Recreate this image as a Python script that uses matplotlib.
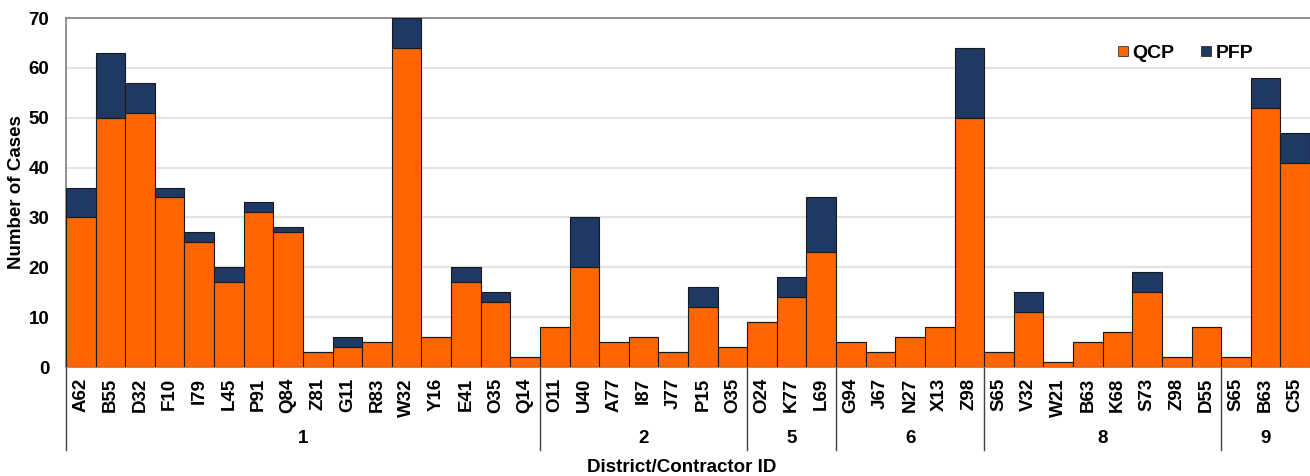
import matplotlib.pyplot as plt
from matplotlib.lines import Line2D
import numpy as np

plt.rcParams['font.family'] = ['Liberation Sans', 'DejaVu Sans']
plt.rcParams['font.weight'] = 'bold'

# contractor ids grouped by district
districts = ["1", "2", "5", "6", "8", "9"]
contractors = [
    ["A62", "B55", "D32", "F10", "I79", "L45", "P91", "Q84", "Z81", "G11",
     "R83", "W32", "Y16", "E41", "O35", "Q14"],
    ["O11", "U40", "A77", "I87", "J77", "P15", "O35"],
    ["O24", "K77", "L69"],
    ["G94", "J67", "N27", "X13", "Z98"],
    ["S65", "V32", "W21", "B63", "K68", "S73", "Z98", "D55"],
    ["S65", "B63", "C55"],
]
qcp = [30, 50, 51, 34, 25, 17, 31, 27, 3, 4, 5, 64, 6, 17, 13, 2,
       8, 20, 5, 6, 3, 12, 4,
       9, 14, 23,
       5, 3, 6, 8, 50,
       3, 11, 1, 5, 7, 15, 2, 8,
       2, 52, 41]
pfp = [6, 13, 6, 2, 2, 3, 2, 1, 0, 2, 0, 6, 0, 3, 2, 0,
       0, 10, 0, 0, 0, 4, 0,
       0, 4, 11,
       0, 0, 0, 0, 14,
       0, 4, 0, 0, 0, 4, 0, 0,
       0, 6, 6]

orange = "#FF6600"
navy = "#1F3864"

labels = [c for grp in contractors for c in grp]
x = np.arange(len(labels))

fig = plt.figure(figsize=(13.1, 4.76), dpi=100)
ax = fig.add_axes([66 / 1310, 1 - 367 / 476, 1 - 66 / 1310, 349 / 476])

ax.bar(x, qcp, width=1.0, color=orange, edgecolor="#1a1a1a", linewidth=0.8, zorder=3)
ax.bar(x, pfp, width=1.0, bottom=qcp, color=navy, edgecolor="#1a1a1a", linewidth=0.8, zorder=3)

ax.set_xlim(-0.5, len(labels) - 0.5)
ax.set_ylim(0, 70)
ax.set_yticks(range(0, 71, 10))
ax.yaxis.grid(True, color="#E3E3E3", linewidth=1.5, zorder=0)
ax.set_axisbelow(True)

ax.set_xticks(x)
ax.set_xticklabels(labels, rotation=90, fontsize=13.5, fontweight="bold")
ax.tick_params(axis="both", length=0, pad=8)
ax.tick_params(axis="y", labelsize=13.5, pad=12)
for t in ax.get_yticklabels():
    t.set_fontweight("bold")

for s in ["top", "left", "bottom"]:
    ax.spines[s].set_color("#808080")
    ax.spines[s].set_linewidth(1.2)
ax.spines["right"].set_visible(False)

# district grouping lines and labels below the axis
trans = ax.get_xaxis_transform()
start = 0
edges = [-0.5]
for d, grp in zip(districts, contractors):
    end = start + len(grp)
    edges.append(end - 0.5)
    ax.text((start + end - 1) / 2, -0.206, d, transform=trans, ha="center", va="center",
            fontsize=13.5, fontweight="bold")
    start = end
for e in edges[:-1]:
    ax.plot([e, e], [0, -0.238], transform=trans, color="#404040", lw=1.0, clip_on=False)

ax.set_ylabel("Number of Cases", fontsize=13.5, fontweight="bold")
ax.yaxis.set_label_coords(-0.033, 0.5)
ax.text(20.3, -0.289, "District/Contractor ID", transform=trans,
        ha="center", va="center", fontsize=13.5, fontweight="bold")

handles = [Line2D([], [], marker="s", ls="", color=orange, markersize=6.5, markeredgecolor="#1a1a1a", markeredgewidth=0.5),
           Line2D([], [], marker="s", ls="", color=navy, markersize=6.5, markeredgecolor="#1a1a1a", markeredgewidth=0.5)]
ax.legend(handles, ["QCP", "PFP"], loc="center", bbox_to_anchor=(0.899, 0.9), ncol=2,
          frameon=False, handletextpad=0.1, columnspacing=1.25, handlelength=0.8,
          prop={"size": 14, "weight": "bold"})

fig.savefig("out.png", dpi=100)
